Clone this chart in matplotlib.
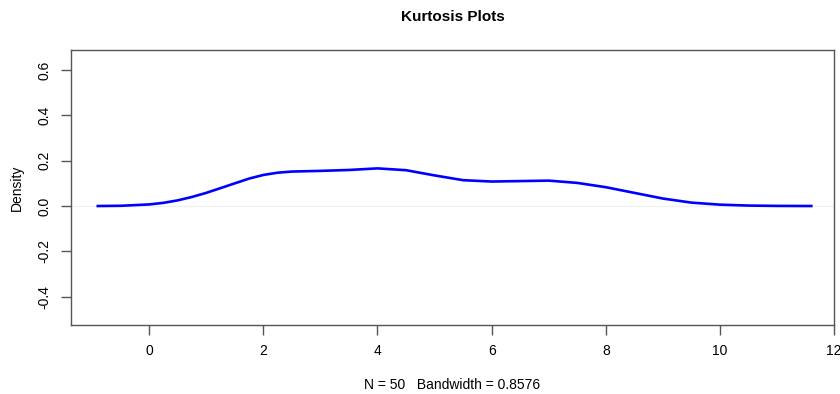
import matplotlib
matplotlib.use("Agg")
import matplotlib.pyplot as plt

plt.rcParams['font.family'] = ['Liberation Sans', 'DejaVu Sans']

# density estimate (N = 50, bw = 0.8576)
x = [-0.9, -0.5, 0.0, 0.25, 0.5, 0.75, 1.0, 1.25, 1.5, 1.75, 2.0, 2.25, 2.5,
     3.0, 3.5, 4.0, 4.5, 5.0, 5.5, 6.0, 6.5, 7.0, 7.5, 8.0, 8.5, 9.0, 9.5,
     10.0, 10.5, 11.0, 11.6]
density = [0.0, 0.001, 0.007, 0.014, 0.025, 0.040, 0.058, 0.079, 0.100, 0.121,
           0.137, 0.147, 0.152, 0.155, 0.159, 0.166, 0.158, 0.135, 0.114,
           0.108, 0.110, 0.112, 0.102, 0.083, 0.058, 0.033, 0.015, 0.006,
           0.002, 0.0005, 0.0]

xticks = [0, 2, 4, 6, 8, 10, 12]
yticks = [-0.4, -0.2, 0.0, 0.2, 0.4, 0.6]

fig = plt.figure(figsize=(8.4, 3.94), dpi=100)
ax = fig.add_axes([0.0845, 0.175, 0.9085, 0.698])

ax.axhline(0, color='#f0f0f0', lw=1, zorder=1)
ax.plot(x, density, color='#0000ff', lw=1.9, zorder=2)

ax.set_xlim(-1.37, 12.0)
ax.set_ylim(-0.525, 0.688)
ax.set_xticks(xticks)
ax.set_xticklabels([str(t) for t in xticks])
ax.set_yticks(yticks)
ax.set_yticklabels(['%.1f' % t for t in yticks], rotation=90, va='center')

for s in ax.spines.values():
    s.set_color('#555555')
    s.set_linewidth(1)
ax.tick_params(direction='out', length=7, width=1, color='#555555',
               labelsize=10, pad=7)

ax.set_title('Kurtosis Plots', fontsize=11, fontweight='bold', pad=21)
ax.set_ylabel('Density', fontsize=10, labelpad=10)
ax.set_xlabel('N = 50   Bandwidth = 0.8576', fontsize=10, labelpad=14)

fig.savefig('out.png', dpi=100)
